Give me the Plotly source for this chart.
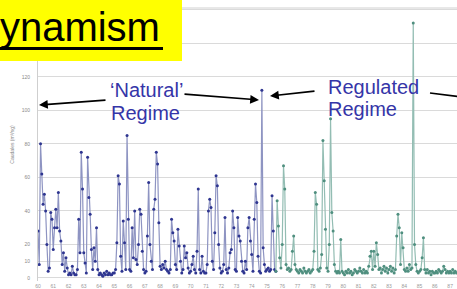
import plotly.graph_objects as go

# Monthly discharge (m3/s), one row per year
natural_flow = [
    28, 8, 80, 62, 44, 50, 40, 20, 4, 6, 39, 35,
    17, 30, 41, 30, 51, 28, 22, 8, 15, 4, 12, 6,
    2, 3, 2, 7, 3, 2, 2, 5, 35, 15, 75, 53,
    15, 9, 3, 72, 48, 38, 17, 5, 18, 10, 30, 5,
    2, 3, 2, 1, 3, 2, 4, 2, 3, 2, 2, 3,
    3, 5, 21, 61, 56, 13, 4, 34, 21, 5, 85, 35,
    5, 4, 30, 12, 40, 11, 8, 20, 41, 38, 16, 5,
    3, 4, 25, 57, 20, 10, 5, 41, 47, 75, 68, 33,
    7, 5, 8, 6, 10, 5, 4, 3, 5, 35, 27, 22,
    8, 5, 29, 19, 10, 3, 5, 19, 12, 15, 6, 3,
    4, 8, 13, 5, 3, 16, 53, 5, 3, 13, 4, 3,
    3, 8, 40, 47, 42, 10, 5, 27, 61, 55, 20, 6,
    3, 4, 8, 36, 5, 3, 6, 15, 17, 40, 30, 5,
    4, 36, 25, 22, 10, 4, 3, 10, 5, 30, 36, 22,
    14, 4, 35, 56, 45, 13, 4, 3, 112, 18, 8, 4,
    5, 6, 4, 5, 49, 28, 5, 4,
]
regulated_flow = [
    4, 46, 31, 12, 6,
    20, 67, 53, 8, 5, 6, 4, 5, 16, 25, 8, 5,
    4, 3, 5, 4, 3, 6, 4, 3, 4, 5, 3, 4,
    5, 16, 51, 44, 5, 4, 6, 14, 82, 58, 29, 6,
    4, 20, 95, 39, 28, 8, 4, 3, 4, 3, 23, 4,
    3, 2, 4, 3, 5, 3, 4, 2, 3, 5, 4, 3,
    4, 6, 4, 3, 5, 3, 4, 3, 7, 13, 16, 5,
    16, 7, 21, 14, 5, 6, 3, 5, 7, 4, 6, 3,
    5, 7, 4, 6, 3, 5, 25, 38, 30, 8, 27, 18,
    5, 4, 6, 4, 8, 5, 6, 152, 20, 8, 4, 3,
    4, 5, 12, 24, 5, 3, 5, 3, 4, 2, 4, 3,
    3, 4, 3, 5, 4, 3, 4, 7, 5, 3, 4, 3,
    4, 3, 5, 3, 4, 3,
]
regulated_start_month = len(natural_flow) - 1  # shares one point with natural series

year_labels = [str(y) for y in range(60, 88)]
y_ticks = [0, 10, 20, 40, 60, 80, 100, 120, 140, 160]
y_tick_text = ["0", "10", "20", "40", "60", "80", "100", "120", "", ""]  # top two hidden by title box

nat_x = list(range(len(natural_flow)))
reg_x = list(range(regulated_start_month, regulated_start_month + len(regulated_flow)))

fig = go.Figure()
fig.add_trace(go.Scatter(
    x=nat_x, y=natural_flow, mode="lines+markers",
    line=dict(color="#8E94C2", width=1.2),
    marker=dict(color="#2E3590", size=3),
    showlegend=False,
))
fig.add_trace(go.Scatter(
    x=reg_x, y=regulated_flow, mode="lines+markers",
    line=dict(color="#93BDB3", width=1.2),
    marker=dict(color="#4F8F7F", size=3),
    showlegend=False,
))

blue = "#3535A8"
txt_font = dict(family="Liberation Sans, Arial", size=20, color=blue)
annotations = [
    dict(text="‘Natural’", x=108, y=90, xanchor="left", yanchor="middle", font=txt_font),
    dict(text="Regime", x=109, y=113, xanchor="left", yanchor="middle", font=txt_font),
    dict(text="Regulated", x=326, y=87, xanchor="left", yanchor="middle", font=txt_font),
    dict(text="Regime", x=326, y=109, xanchor="left", yanchor="middle", font=txt_font),
]

W, H = 457, 289
L, R, T, B = 38, 0, 8, 8
pw, ph = W - L - R, H - T - B


def px(xp):
    return (xp - L) / pw


def py(yp):
    return (H - B - yp) / ph


anns = []
for a in annotations:
    anns.append(dict(text=a["text"], xref="paper", yref="paper", x=px(a["x"]), y=py(a["y"]),
                     xanchor=a["xanchor"], yanchor=a["yanchor"], showarrow=False, font=a["font"]))

# arrows: (head_x, head_y, tail_x, tail_y) in pixels
arrows = [(39, 105, 107, 100), (259, 100, 183, 94), (270, 96, 316, 91)]
for hx, hy, tx, ty in arrows:
    anns.append(dict(text="", xref="paper", yref="paper", x=px(hx), y=py(hy),
                     ax=tx - hx, ay=ty - hy, showarrow=True, arrowhead=2, arrowsize=1.1,
                     arrowwidth=1.6, arrowcolor="black"))

# title
anns.append(dict(text="Dynamism", xref="paper", yref="paper", x=px(162), y=py(27),
                 xanchor="right", yanchor="middle", showarrow=False,
                 font=dict(family="Liberation Sans, Arial", size=40, color="black")))

fig.update_layout(
    width=W, height=H,
    margin=dict(l=L, r=R, t=T, b=B, autoexpand=False),
    paper_bgcolor="white", plot_bgcolor="white",
    annotations=anns,
    shapes=[
        dict(type="line", xref="paper", yref="paper", x0=0, x1=1, y0=1, y1=1,
             line=dict(color="#D0D0D0", width=1), layer="below"),
        dict(type="rect", xref="paper", yref="paper", x0=px(-5), x1=px(182), y0=py(61), y1=py(-5),
             fillcolor="#FFFF00", line=dict(width=0), layer="above"),
        dict(type="line", xref="paper", yref="paper", x0=px(-5), x1=px(163), y0=py(48.5), y1=py(48.5),
             line=dict(color="black", width=3), layer="above"),
        # arrow leaving the right edge of the frame
        dict(type="line", xref="paper", yref="paper", x0=px(430), x1=px(470), y0=py(93), y1=py(98),
             line=dict(color="black", width=1.6), layer="above"),
    ],
    xaxis=dict(
        range=[0, 329.4], tickvals=list(range(0, 12 * len(year_labels), 12)), ticktext=year_labels,
        showgrid=False, zeroline=False, showline=False, automargin=False,
        tickfont=dict(size=5, color="#9A9A9A", family="Liberation Sans, Arial"),
        ticklabelstandoff=1,
    ),
    yaxis=dict(
        range=[-1.8, 161], tickvals=y_ticks, ticktext=y_tick_text,
        showgrid=True, gridcolor="#DADADA", gridwidth=1, zeroline=False,
        showline=True, linecolor="#CFCFCF", linewidth=1, automargin=False,
        tickfont=dict(size=5, color="#8A8A8A", family="Liberation Sans, Arial"),
        ticklabelstandoff=6,
        title=dict(text="Caudales (m³/sg)", standoff=6,
                   font=dict(size=5, color="#8A8A8A", family="Liberation Sans, Arial")),
    ),
)

fig.write_html("out.html", config={"displayModeBar": False},
               post_script="document.body.style.margin='0px';")
